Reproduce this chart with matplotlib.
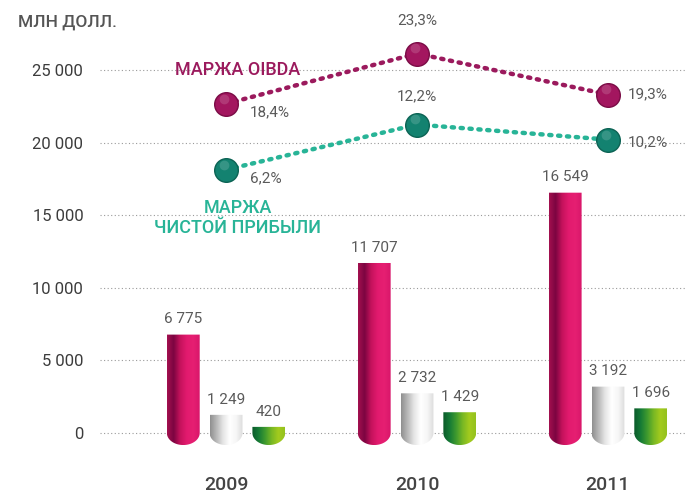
import numpy as np
import matplotlib

matplotlib.use("Agg")
import matplotlib.pyplot as plt
from matplotlib.colors import LinearSegmentedColormap
from matplotlib.patches import PathPatch
from matplotlib.path import Path

years = ["2009", "2010", "2011"]
revenue = [6775, 11707, 16549]
oibda = [1249, 2732, 3192]
net_income = [420, 1429, 1696]
oibda_margin = [18.4, 23.3, 19.3]
net_margin = [6.2, 12.2, 10.2]

GRAD = {
    "revenue": ["#a3104f", "#7c0541", "#c5125c", "#e21a6e", "#e61f72", "#d8166a"],
    "oibda": ["#8f8f8f", "#b9b9b9", "#e6e6e6", "#ffffff", "#f6f6f6", "#dcdcdc"],
    "net": ["#0b5a2a", "#157a36", "#3f9a2e", "#79b824", "#a3cb1e", "#94c11e"],
}
OIBDA_C = "#9b1a5d"
NET_C = "#28b497"
TEXT = "#3c3c3c"
LABEL = "#5a5a5a"

plt.rcParams["font.family"] = ["Roboto", "DejaVu Sans"]

Y0, Y1 = -1171, 28788


def cylinder(ax, x0, w, top, depth, colors):
    # flat top, rounded bottom dipping under the zero line
    t = np.linspace(0, np.pi, 40)
    bx = x0 + w / 2 - (w / 2) * np.cos(t)
    by = -depth * np.sin(t)
    verts = [(x0 + w, top), (x0, top)] + list(zip(bx, by)) + [(x0 + w, top)]
    codes = [Path.MOVETO] + [Path.LINETO] * (len(verts) - 2) + [Path.CLOSEPOLY]
    patch = PathPatch(Path(verts, codes), facecolor="none", edgecolor="none")
    ax.add_patch(patch)
    cmap = LinearSegmentedColormap.from_list("g", colors)
    img = ax.imshow(np.linspace(0, 1, 256)[None, :], cmap=cmap, aspect="auto",
                    extent=(x0, x0 + w, -depth, top), origin="lower", zorder=3)
    img.set_clip_path(patch)


fig = plt.figure(figsize=(6.87, 4.94), dpi=100)
ax = fig.add_axes([0.1456, 0.0891, 0.8544, 0.8806])

x = np.arange(len(years))
width = 0.172
offset = 0.224
depth = 830
for vals, key, off in [(revenue, "revenue", -offset), (oibda, "oibda", 0.0), (net_income, "net", offset)]:
    bars = ax.bar(x + off, vals, width, color="none", edgecolor="none")
    for r, v in zip(bars, vals):
        cylinder(ax, r.get_x(), r.get_width(), r.get_height(), depth, GRAD[key])
        ax.annotate(f"{v:,}".replace(",", " "), (r.get_x() + r.get_width() / 2, v),
                    xytext=(0, 6), textcoords="offset points", ha="center", va="bottom",
                    fontsize=11, color=LABEL)

ax.set_xlim(-0.66, 2.414)
ax.set_ylim(Y0, Y1)
ax.set_yticks(range(0, 25001, 5000))
ax.set_yticklabels([f"{v:,}".replace(",", " ") for v in range(0, 25001, 5000)])
ax.set_xticks(x)
ax.set_xticklabels(years)
ax.tick_params(axis="y", length=0, pad=12, labelsize=12, labelcolor=TEXT)
ax.tick_params(axis="x", length=0, pad=19, labelsize=14, labelcolor="#444444")
for lab in ax.get_xticklabels():
    lab.set_fontweight("medium")
ax.yaxis.grid(True, linestyle=(0, (1, 2.2)), linewidth=0.8, color="#9a9a9a")
ax.set_axisbelow(True)
for s in ax.spines.values():
    s.set_visible(False)

# each margin line on its own hidden scale
series = [
    (oibda_margin, OIBDA_C, "#a3165f", "#7a0c46", (706, 9683),
     [(17, -6, "left"), (0, 24, "center"), (14, 0, "left")]),
    (net_margin, NET_C, "#138270", "#0c6354", (519, 14911),
     [(17, -6, "left"), (0, 20, "center"), (14, -2, "left")]),
]
for vals, color, mcolor, edge, (k, b), offs in series:
    ax2 = ax.twinx()
    ax2.set_ylim((Y0 - b) / k, (Y1 - b) / k)
    ax2.axis("off")
    ax2.plot(x, vals, color=color, linewidth=3.2, linestyle=(0, (0.5, 1.5)),
             dash_capstyle="round", zorder=4)
    ax2.plot(x, vals, "o", markersize=17, markerfacecolor=mcolor, markeredgecolor=edge,
             markeredgewidth=1.0, zorder=5)
    ax2.plot(x - 0.012, [v + 0.35 * 1000 / k for v in vals], "o", markersize=7,
             markerfacecolor="white", markeredgecolor="none", alpha=0.15, zorder=6)
    for i, v in enumerate(vals):
        dx, dy, ha = offs[i]
        ax2.annotate(f"{v:.1f}%".replace(".", ","), (x[i], v), xytext=(dx, dy),
                     textcoords="offset points", ha=ha, va="center",
                     fontsize=11, color=LABEL)

fig.text(18 / 687, 1 - 22 / 494, "МЛН ДОЛЛ.", ha="left", va="center", fontsize=12.5,
         color="#555555", fontweight="medium")
fig.text(238 / 687, 1 - 70 / 494, "МАРЖА OIBDA", ha="center", va="center", fontsize=13,
         color=OIBDA_C, fontweight="medium")
fig.text(238 / 687, 1 - 218 / 494, "МАРЖА\nЧИСТОЙ ПРИБЫЛИ", ha="center", va="center",
         fontsize=13, color=NET_C, fontweight="medium", linespacing=1.15)

fig.savefig("out.png", dpi=100)
